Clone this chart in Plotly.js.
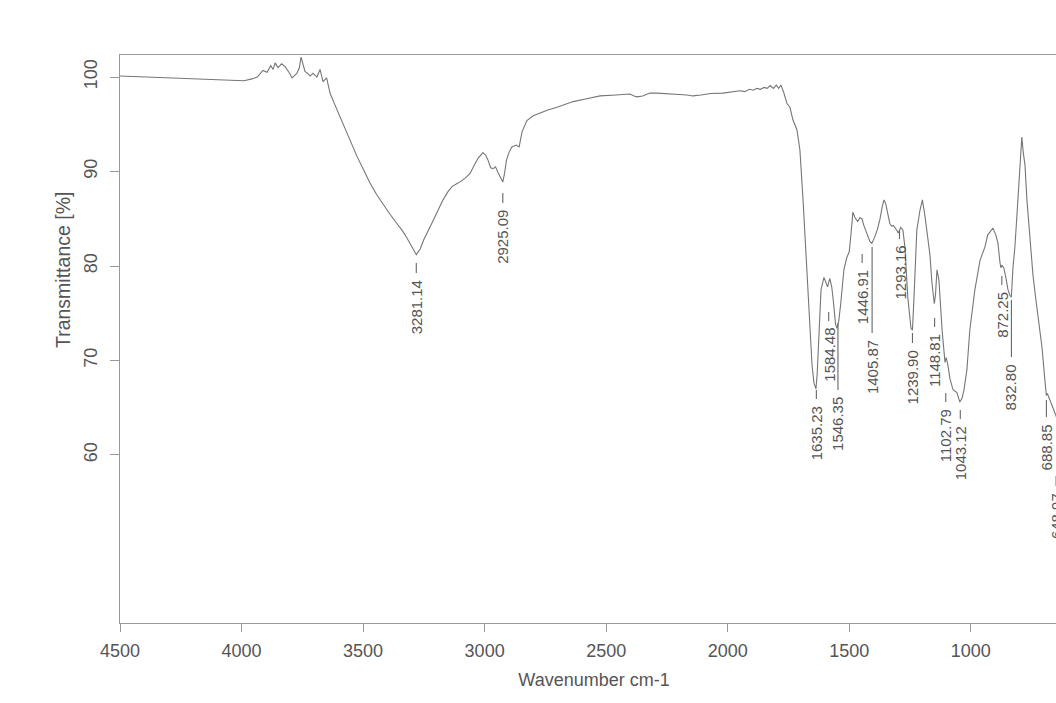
<!DOCTYPE html>
<html>
<head>
<meta charset="utf-8">
<script src="https://cdn.plot.ly/plotly-3.0.1.min.js"></script>
<style>
html,body{margin:0;padding:0;background:#fff;overflow:hidden;}
#plot{width:1068px;height:703px;}
</style>
</head>
<body>
<div id="plot"></div>
<script>
// Spectrum (wavenumber cm-1, transmittance %)
const wavenumber = [4500,4400,4300,4200,4100,4048,3990,3957,3935,3912,3895,3880,3870,3862,3850,3835,3821,3805,3792,3772,3762,3755,3745,3739,3725,3718,3706,3690,3677,3665,3650,3636,3615,3595,3574,3550,3525,3500,3472,3445,3418,3390,3361,3340,3320,3300,3281,3265,3250,3225,3200,3171,3150,3134,3115,3101,3080,3060,3040,3027,3007,2995,2986,2975,2965,2955,2945,2935,2925,2918,2910,2900,2888,2870,2858,2846,2826,2800,2772,2740,2702,2670,2636,2580,2525,2460,2402,2385,2373,2350,2320,2291,2250,2200,2168,2143,2110,2070,2020,1985,1950,1930,1910,1895,1880,1865,1850,1838,1825,1812,1800,1790,1781,1770,1756,1744,1732,1715,1703,1690,1674,1661,1653,1645,1637,1632,1625,1616,1604,1596,1589,1580,1572,1565,1556,1550,1543,1535,1522,1510,1500,1493,1485,1476,1465,1456,1448,1440,1427,1415,1407,1396,1385,1374,1364,1357,1350,1345,1333,1325,1318,1310,1298,1288,1279,1271,1259,1246,1240,1234,1222,1209,1199,1189,1176,1168,1160,1150,1145,1139,1131,1118,1106,1101,1094,1086,1073,1057,1045,1036,1028,1016,1004,983,962,942,930,921,909,897,888,880,876,872,864,855,847,839,833,827,818,810,802,794,790,784,777,769,757,744,732,720,707,695,689,685,680,674,662,650,645];
const transmittance = [100.1,100.0,99.9,99.8,99.7,99.6,99.6,99.8,100.0,100.7,100.5,101.2,100.8,101.5,101.0,101.4,101.1,100.5,99.9,100.4,101.0,102.1,101.2,100.6,100.3,100.1,100.4,100.0,100.8,99.5,99.9,98.3,97.0,95.8,94.6,93.1,91.6,90.3,88.8,87.6,86.5,85.5,84.5,83.8,83.0,82.1,81.2,81.8,82.8,84.1,85.5,87.0,87.9,88.4,88.7,88.9,89.3,89.8,90.8,91.4,92.0,91.7,91.2,90.4,90.3,90.5,89.9,89.3,88.9,89.8,91.2,92.0,92.6,92.8,92.6,94.2,95.4,95.9,96.2,96.5,96.8,97.1,97.4,97.7,98.0,98.1,98.2,98.0,97.9,98.0,98.3,98.3,98.2,98.15,98.1,98.0,98.1,98.25,98.3,98.4,98.55,98.45,98.7,98.6,98.8,98.7,98.9,98.8,99.1,98.8,99.15,98.8,99.15,98.4,97.2,96.8,95.5,94.4,92.3,87.0,79.9,73.2,69.5,67.6,67.0,68.5,73.2,77.5,78.8,78.2,77.8,78.7,77.8,76.2,73.8,73.4,74.2,76.0,79.6,80.9,81.5,83.3,85.7,85.1,84.7,85.1,85.0,84.3,83.5,82.6,82.4,83.0,83.8,84.9,86.3,87.0,86.6,85.9,84.5,84.2,84.3,84.0,83.5,84.1,83.8,82.0,76.7,73.4,73.2,76.4,83.8,85.9,87.0,85.4,82.8,81.2,78.3,76.0,77.0,79.6,78.5,73.2,69.8,70.3,69.5,68.1,66.9,66.6,65.6,66.0,66.9,69.0,73.2,77.5,80.6,82.0,83.3,83.6,84.0,83.3,82.4,80.4,79.8,80.1,79.8,78.7,77.5,76.9,76.7,79.6,82.2,85.4,89.1,92.8,93.65,92.0,90.7,87.0,82.8,79.0,76.4,73.8,71.4,67.9,66.3,66.5,66.2,65.8,65.1,64.2,63.8];

// Peak labels
const peakWavenumbers = [3281.14,2925.09,1635.23,1584.48,1546.35,1446.91,1405.87,1293.16,1239.90,1148.81,1102.79,1043.12,872.25,832.80,688.85,648.97];
const peakLabels = ['3281.14','2925.09','1635.23','1584.48','1546.35','1446.91','1405.87','1293.16','1239.90','1148.81','1102.79','1043.12','872.25','832.80','688.85','648.97'];

// Axis ticks
const yTickVals = [60,70,80,90,100];
const xTickVals = [4500,4000,3500,3000,2500,2000,1500,1000];

// ---- styling / layout of the label leaders (pixel rows in the figure) ----
const FIG_H = 703, M_T = 55, M_B = 80, M_L = 120, PLOT_W = 948;
const PLOT_H = FIG_H - M_T - M_B;
const leader = [ // [lineTopPx, lineBottomPx]
  [263,273],[193,203],[390,399],[312,321],[323,390],[254,263],[247,333],[230,239],
  [333,343],[318,327],[393,402],[410,419],[276,285],[300,357],[400,417],[476,486]
];
const toPaperY = py => (FIG_H - M_B - py) / PLOT_H;
const toPaperX = px => (px - M_L) / PLOT_W;
const GRAY_TXT = '#555555';
const FONT = 'Liberation Sans, Arial, sans-serif';
const shapes = [];
const annotations = [];
peakWavenumbers.forEach((w, i) => {
  const [t, b] = leader[i];
  shapes.push({type:'line', xref:'x', yref:'paper', x0:w, x1:w, y0:toPaperY(t), y1:toPaperY(b),
               line:{color:'#666', width:1.1}});
  annotations.push({x:w, xref:'x', y:toPaperY(b + 6), yref:'paper', yanchor:'top', xanchor:'center',
                    text:peakLabels[i], textangle:-90, showarrow:false, borderpad:0,
                    font:{family:FONT, size:15, color:GRAY_TXT}});
});
// y-axis title (placed as in the original scan, above the plot's middle)
annotations.push({x:toPaperX(63), xref:'paper', y:toPaperY(270), yref:'paper',
                  xanchor:'center', yanchor:'middle', textangle:-90, showarrow:false,
                  text:'Transmittance [%]', font:{family:FONT, size:19.5, color:GRAY_TXT}});

const trace = {
  x: wavenumber, y: transmittance, type:'scatter', mode:'lines',
  line:{color:'#767676', width:1.1}, hoverinfo:'skip'
};

const layout = {
  width:1068, height:703,
  margin:{l:M_L, r:0, t:M_T, b:M_B},
  paper_bgcolor:'#ffffff', plot_bgcolor:'#ffffff',
  showlegend:false,
  font:{family:FONT, color:GRAY_TXT},
  xaxis:{
    range:[4500,600], autorange:false,
    tickvals:xTickVals, ticks:'outside', ticklen:8, tickcolor:'#999', tickwidth:1,
    ticklabelstandoff:3,
    showline:true, linecolor:'#999', linewidth:1, mirror:true,
    showgrid:false, zeroline:false,
    tickfont:{size:18, color:GRAY_TXT},
    title:{text:'Wavenumber cm-1', font:{size:18, color:GRAY_TXT}, standoff:13}
  },
  yaxis:{
    range:[42.22, 102.33], autorange:false,
    tickvals:yTickVals, ticks:'outside', ticklen:9, tickcolor:'#999', tickwidth:1,
    tickangle:-90, ticklabelstandoff:6,
    showline:true, linecolor:'#999', linewidth:1, mirror:false,
    showgrid:false, zeroline:false,
    tickfont:{size:18, color:GRAY_TXT}
  },
  shapes:shapes,
  annotations:annotations
};

Plotly.newPlot('plot', [trace], layout, {displayModeBar:false, staticPlot:true});
</script>
</body>
</html>
